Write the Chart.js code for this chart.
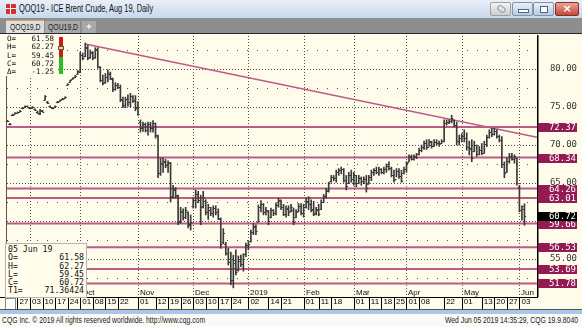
<!DOCTYPE html>
<html>
<head>
<meta charset="utf-8">
<title>QOQ19 - ICE Brent Crude, Aug 19, Daily</title>
<script src="https://cdn.jsdelivr.net/npm/chart.js@4.4.1/dist/chart.umd.min.js"></script>
<style>
  html, body { margin: 0; padding: 0; }
  body { width: 582px; height: 327px; position: relative; overflow: hidden; background: #fffcec;
         font-family: "Liberation Sans", Arial, sans-serif; }
  .abs { position: absolute; }
  .cond { display: inline-block; transform: scaleX(0.76); transform-origin: 0 50%; white-space: nowrap; }
  #chart { position: absolute; left: 0; top: 0; }
  #titlebar { left: 0; top: 0; width: 582px; height: 18px; background: linear-gradient(#e8eff8, #c8d8ec); }
  #icon { left: 6px; top: 4px; width: 10px; height: 10px; border-radius: 1px;
          background: linear-gradient(90deg, transparent 4px, #fff 4px 5px, transparent 5px),
                      linear-gradient(transparent 4px, #fff 4px 5px, transparent 5px), #d03030; }
  #title { left: 19px; top: 3px; font-size: 10px; color: #111; }
  .btn { top: 2px; height: 12px; border: 1px solid #8293ad; border-radius: 2px;
         background: linear-gradient(#e9f0f9, #b8cbe3); }
  #tabs { left: 0; top: 18px; width: 582px; height: 15px; background: #8e8e8e; border-bottom: 1px solid #2a2a2a; }
  .tab { top: 21px; height: 12px; font-size: 9px; line-height: 12px; color: #222; overflow: hidden; }
  .box { font-family: "DejaVu Sans Mono", monospace; color: #111; }
  .row { display: flex; justify-content: space-between; white-space: pre; }
  #foot { left: 0; top: 314px; width: 582px; height: 13px; background: #fbfaf6; font-size: 8.5px; line-height: 12px; color: #222; }
</style>
</head>
<body>
<canvas id="chart" width="582" height="327"></canvas>

<div id="titlebar" class="abs"></div>
<div id="icon" class="abs"></div>
<div id="title" class="abs"><span class="cond" style="transform:scaleX(0.74);">QOQ19 - ICE Brent Crude, Aug 19, Daily</span></div>
<div class="abs btn" style="left:490px;width:19px;background:linear-gradient(#f3f3f3,#cfcfcf);border-color:#a0a0a0;">
  <div class="abs" style="left:6px;top:3px;width:7px;height:4px;border:1px solid #999;border-radius:3px;transform:rotate(35deg);"></div>
</div>
<div class="abs btn" style="left:512px;width:19px;">
  <div class="abs" style="left:5px;top:6px;width:9px;height:2px;background:#fff;border:1px solid #56657c;"></div>
</div>
<div class="abs btn" style="left:533px;width:19px;">
  <div class="abs" style="left:6px;top:3px;width:6px;height:5px;background:#fff;border:1px solid #56657c;"></div>
</div>
<div class="abs btn" style="left:555px;width:22px;background:linear-gradient(#eaa496,#c4473b);border-color:#8a2c24;
     color:#fff;font:bold 11px 'DejaVu Sans',sans-serif;line-height:12px;text-align:center;">×</div>

<div id="tabs" class="abs"></div>
<div class="abs tab" style="left:6px;width:38px;background:#dedede;border-top:1px solid #e3a560;top:20px;">
  <span class="cond" style="margin-left:4px;">QOQ19,D</span></div>
<div class="abs tab" style="left:45px;width:35px;background:#a9a9a9;">
  <span class="cond" style="margin-left:3px;">QOU19,D</span></div>
<div class="abs tab" style="left:82px;width:14px;background:#a9a9a9;color:#fff;font-weight:bold;text-align:center;">+</div>

<div class="abs box" style="left:6px;top:35px;width:52px;height:41px;background:#fffcec;font-size:7.5px;line-height:8.3px;">
  <div class="row" style="width:47px;padding-left:1px;"><span>O=</span><span>61.58</span></div>
  <div class="row" style="width:47px;padding-left:1px;"><span>H=</span><span>62.27</span></div>
  <div class="row" style="width:47px;padding-left:1px;"><span>L=</span><span>59.45</span></div>
  <div class="row" style="width:47px;padding-left:1px;"><span>C=</span><span>60.72</span></div>
  <div class="row" style="width:47px;padding-left:1px;"><span>Δ=</span><span>-1.25</span></div>
</div>
<div class="abs" style="left:59px;top:37px;width:4px;height:20px;background:#d41a1a;"></div>
<div class="abs" style="left:59px;top:57px;width:4px;height:17px;background:#25c025;"></div>
<div class="abs" style="left:58px;top:46px;width:4px;height:2px;background:#e8e040;border:1px solid #555;"></div>

<div class="abs box" style="left:5px;top:243px;width:78px;height:52px;border:1px solid #b4b4b4;background:#fffcec;
     font-size:8.2px;line-height:8.3px;padding:1px 0 0 2px;">
  <div class="row" style="width:76px;"><span>05 Jun 19</span><span></span></div>
  <div class="row" style="width:76px;"><span>O=</span><span>61.58</span></div>
  <div class="row" style="width:76px;"><span>H=</span><span>62.27</span></div>
  <div class="row" style="width:76px;"><span>L=</span><span>59.45</span></div>
  <div class="row" style="width:76px;"><span>C=</span><span>60.72</span></div>
  <div class="row" style="width:76px;"><span>T1=</span><span>71.36424</span></div>
</div>

<div class="abs" style="left:5px;top:298px;width:9px;height:10px;background:#fff;border:1px solid #888;"></div>
<div class="abs" style="left:0;top:309px;width:582px;height:1px;background:#555;"></div>
<div class="abs" style="left:0;top:310px;width:582px;height:4px;background:#a9c8e6;"></div>
<div id="foot" class="abs">
  <span class="abs" style="left:2px;"><span class="cond" style="transform:scaleX(0.8);">CQG Inc. © 2019 All rights reserved worldwide. http://www.cqg.com</span></span>
  <span class="abs" style="left:445px;"><span class="cond" style="transform:scaleX(0.8);">Wed Jun 05 2019 14:35:29, CQG 19.9.8040</span></span>
</div>

<script>
// first trading day shown; one value per weekday from here on
const startDay = '2018-08-21';

const openP = [
  73.2, 72.8, 73.9, 74.1, 74.2, 74.4, 74.8, 75.0, 75.1, 74.9, 74.9, 74.7, 74.4, 74.1, 74.5,
  75.9, 75.7, 75.1, 74.8, 75.0, 75.6, 75.8, 76.0, 76.2, 77.9, 78.3, 78.7, 78.9, 79.3,
  79.6, 81.8, 81.7, 82.8, 81.6, 82.1, 81.6, 82.5, 80.2, 78.5,
  78.3, 79.0, 79.4, 78.7, 77.3, 77.9, 77.6, 75.9, 75.2, 76.0,
  75.6, 76.4, 75.9, 75.0, 73.0, 72.3, 72.7, 72.0, 72.7, 72.2,
  72.9, 71.2, 66.3, 67.5, 67.8, 67.4, 67.6, 63.3, 64.1, 63.3,
  60.0, 61.2, 60.5, 61.2, 59.5, 62.0, 62.8, 63.5, 62.7, 62.0,
  62.6, 61.2, 61.5, 61.0, 61.7, 61.2, 60.2, 57.2, 57.0, 55.8,
  54.6, 52.2, 54.5, 53.6, 54.8, 54.3, 55.6, 56.8, 57.4, 58.5,
  59.2, 59.9, 61.8, 62.2, 61.2, 61.3, 60.5, 61.4, 61.0, 62.1,
  62.6, 61.8, 60.9, 61.6, 61.3, 61.5, 60.5, 61.3, 62.0, 61.0,
  61.9, 62.6, 62.3, 61.6, 61.0, 61.5, 61.6, 62.5, 63.3, 64.0,
  65.2, 65.8, 65.6, 66.4, 66.7, 66.8, 65.4, 65.0, 66.1, 65.5,
  66.0, 65.0, 65.7, 65.2, 65.5, 64.9, 65.8, 66.4, 66.7, 66.4,
  66.8, 66.5, 66.9, 67.3, 67.0, 66.0, 65.5, 66.6, 65.9, 66.3,
  66.9, 67.8, 68.4, 68.2, 68.5, 68.8, 69.4, 69.7, 70.2, 69.8,
  70.4, 69.9, 70.4, 70.2, 70.2, 70.5, 72.9, 73.0, 73.1, 73.3,
  72.6, 70.5, 70.9, 71.2, 70.9, 69.8, 69.6, 69.2, 70.0, 68.8,
  69.4, 69.0, 70.1, 71.0, 71.7, 71.5, 71.9, 71.2, 70.6, 67.5,
  66.5, 67.9, 68.6, 68.2, 68.3, 64.5, 61.4, 61.58
];
const highP = [
  73.25, 72.85, 74.05, 74.25, 74.35, 74.55, 74.95, 75.15, 75.15, 74.95, 75.05, 74.75, 74.45, 74.7, 74.55,
  76.5, 75.75, 75.15, 74.95, 75.15, 75.75, 75.95, 76.15, 76.35, 78.05, 78.55, 78.85, 79.15, 79.8,
  82.2, 82.1, 83.4, 83.1, 82.5, 82.3, 82.8, 82.8, 80.3, 79.2,
  79.4, 79.9, 79.6, 78.8, 78.2, 78.1, 77.9, 76.3, 76.3, 76.6,
  76.8, 76.5, 76.5, 75.7, 73.3, 73.0, 72.9, 73.0, 73.0, 73.2,
  72.9, 71.3, 68.3, 68.3, 68.1, 67.9, 67.7, 64.7, 64.4, 63.4,
  61.8, 61.6, 61.8, 61.2, 60.8, 63.0, 64.1, 63.9, 63.4, 63.9,
  62.8, 62.2, 61.8, 62.0, 62.0, 61.6, 60.4, 59.0, 57.2, 56.4,
  55.9, 55.5, 56.2, 55.4, 55.5, 55.7, 57.1, 57.3, 58.8, 59.7,
  59.5, 62.1, 62.7, 62.3, 61.8, 61.4, 61.7, 61.5, 62.4, 63.0,
  62.8, 62.2, 62.0, 62.0, 62.2, 61.7, 61.5, 62.3, 62.3, 62.2,
  63.0, 63.2, 62.8, 62.6, 61.8, 62.2, 62.8, 63.5, 64.3, 65.1,
  66.0, 66.0, 66.7, 66.9, 67.1, 66.9, 66.0, 66.4, 66.7, 66.4,
  66.0, 66.0, 65.8, 65.8, 66.0, 66.0, 66.7, 66.9, 67.1, 67.1,
  66.9, 67.1, 67.5, 67.8, 67.1, 66.7, 66.9, 66.9, 66.7, 67.1,
  67.8, 68.7, 68.7, 68.7, 68.9, 69.6, 70.0, 70.5, 70.7, 70.7,
  70.5, 70.7, 70.7, 70.5, 70.7, 73.3, 73.3, 73.3, 73.9, 73.3,
  73.0, 71.3, 71.5, 72.0, 71.6, 70.5, 70.7, 70.5, 70.0, 69.8,
  70.2, 70.5, 71.3, 72.0, 72.2, 72.2, 72.0, 71.3, 71.1, 67.8,
  68.3, 68.9, 68.9, 68.7, 68.3, 64.7, 62.0, 62.27
];
const lowP = [
  73.05, 72.65, 73.85, 74.05, 74.15, 74.35, 74.75, 74.95, 74.95, 74.75, 74.85, 74.55, 74.15, 74.0, 74.35,
  75.9, 75.45, 74.95, 74.75, 74.95, 75.55, 75.75, 75.95, 76.15, 77.85, 78.25, 78.65, 78.85, 79.3,
  79.5, 81.2, 81.6, 81.2, 81.4, 81.2, 81.4, 80.1, 78.3, 77.9,
  78.1, 78.3, 78.6, 77.0, 77.2, 77.4, 75.7, 74.9, 74.9, 75.1,
  75.0, 75.6, 74.5, 73.9, 71.7, 71.8, 71.7, 71.3, 71.7, 71.7,
  70.9, 65.7, 66.0, 66.4, 67.0, 66.4, 62.5, 63.0, 63.0, 59.5,
  59.7, 60.1, 60.3, 59.1, 58.8, 61.7, 61.7, 62.4, 59.5, 61.7,
  60.8, 60.2, 60.7, 60.5, 60.8, 60.2, 56.4, 57.0, 55.5, 54.2,
  51.6, 51.2, 52.9, 53.4, 54.0, 53.4, 55.3, 56.2, 57.2, 58.2,
  58.2, 59.9, 61.2, 60.8, 60.8, 59.5, 60.4, 60.7, 60.8, 61.8,
  61.5, 60.7, 60.5, 60.7, 61.2, 59.5, 60.4, 61.2, 60.8, 60.5,
  61.7, 61.5, 61.2, 60.7, 60.8, 60.7, 61.5, 62.4, 63.0, 63.8,
  65.1, 65.3, 65.1, 66.0, 66.2, 65.1, 64.1, 64.9, 65.1, 64.7,
  64.5, 64.9, 64.7, 64.9, 63.8, 64.9, 65.3, 66.0, 66.2, 66.0,
  66.2, 66.2, 66.4, 66.7, 65.8, 65.1, 65.8, 65.6, 65.1, 66.2,
  66.4, 67.8, 68.0, 68.0, 68.2, 68.7, 69.1, 69.4, 69.4, 69.8,
  69.6, 69.8, 70.0, 69.8, 70.2, 70.4, 72.6, 72.8, 72.9, 72.4,
  70.0, 70.0, 70.4, 70.4, 69.3, 68.7, 67.8, 69.1, 68.5, 68.7,
  68.7, 68.9, 69.8, 70.9, 71.1, 71.3, 70.9, 70.4, 67.0, 65.7,
  66.4, 67.6, 68.0, 67.6, 64.7, 61.2, 60.1, 59.45
];
const closeP = [
  73.1, 72.7, 74.0, 74.2, 74.3, 74.5, 74.9, 75.1, 75.0, 74.8, 75.0, 74.6, 74.2, 74.6, 74.4,
  76.4, 75.5, 75.0, 74.9, 75.1, 75.7, 75.9, 76.1, 76.3, 78.0, 78.5, 78.8, 79.1, 79.7,
  81.9, 81.4, 82.9, 81.5, 82.2, 81.5, 82.6, 80.4, 78.6, 78.2,
  79.0, 79.5, 78.8, 77.3, 77.9, 77.6, 76.0, 75.2, 76.0, 75.6,
  76.5, 75.8, 74.8, 74.1, 72.3, 72.8, 72.0, 72.7, 72.2, 72.9,
  71.3, 66.3, 67.6, 67.9, 67.4, 67.7, 63.2, 64.2, 63.4, 59.9,
  61.3, 60.5, 61.4, 59.6, 59.9, 62.8, 63.6, 62.7, 61.8, 63.1,
  61.2, 61.9, 61.0, 61.7, 61.2, 60.4, 57.0, 58.4, 55.8, 54.6,
  52.2, 54.9, 53.3, 55.0, 54.3, 55.6, 56.8, 57.0, 58.5, 59.4,
  58.7, 61.8, 62.3, 61.2, 61.5, 60.0, 61.4, 61.0, 62.1, 62.8,
  61.8, 60.9, 61.7, 61.2, 61.9, 59.9, 61.2, 62.0, 61.0, 61.9,
  62.6, 62.2, 61.5, 60.9, 61.6, 60.9, 62.5, 63.3, 64.1, 65.0,
  65.8, 65.6, 66.5, 66.7, 66.9, 65.4, 64.6, 66.1, 65.5, 66.0,
  65.0, 65.7, 65.2, 65.5, 64.4, 65.8, 66.4, 66.7, 66.4, 66.9,
  66.5, 66.9, 67.3, 67.0, 66.0, 65.4, 66.6, 65.9, 65.3, 66.9,
  67.6, 68.5, 68.2, 68.5, 68.8, 69.4, 69.7, 70.2, 69.8, 70.5,
  69.9, 70.4, 70.2, 70.1, 70.5, 72.9, 73.0, 73.1, 73.5, 72.6,
  70.5, 70.9, 71.2, 70.9, 69.8, 69.5, 68.3, 70.0, 68.8, 69.4,
  69.0, 70.1, 71.0, 71.7, 71.5, 71.9, 71.2, 70.6, 67.5, 66.3,
  67.9, 68.6, 68.2, 68.5, 65.0, 61.5, 61.97, 60.72
];

const levels = [72.37, 68.34, 64.26, 63.01, 59.66, 56.53, 53.69, 51.78];
const lastPrice = 60.72;
const trendStart = ['2018-10-03', 83.30];
const trendEnd = ['2019-06-05', 71.36424];

const weekTicks = [
  '2018-08-27', '2018-09-03', '2018-09-10', '2018-09-17', '2018-09-24', '2018-10-01', '2018-10-08',
  '2018-10-15', '2018-10-22', '2018-11-01', '2018-11-12', '2018-11-19', '2018-11-26', '2018-12-03',
  '2018-12-10', '2018-12-17', '2018-12-24', '2019-01-02', '2019-01-14', '2019-01-21', '2019-02-01',
  '2019-02-11', '2019-02-18', '2019-03-01', '2019-03-11', '2019-03-18', '2019-03-25', '2019-04-01',
  '2019-04-08', '2019-04-22', '2019-05-01', '2019-05-13', '2019-05-20', '2019-05-27', '2019-06-03'
];
const monthStarts = ['2018-09-03', '2018-10-01', '2018-11-01', '2018-12-03', '2019-01-02',
                     '2019-02-01', '2019-03-01', '2019-04-01', '2019-05-01', '2019-06-03'];
const monthNames = ['Sep', 'Oct', 'Nov', 'Dec', '2019', 'Feb', 'Mar', 'Apr', 'May', 'Jun'];

// weekday calendar
const days = [];
const cur = new Date(startDay + 'T00:00:00Z');
while (days.length < 215) {
  const wd = cur.getUTCDay();
  if (wd !== 0 && wd !== 6) days.push(cur.toISOString().slice(0, 10));
  cur.setUTCDate(cur.getUTCDate() + 1);
}
const dayIdx = s => days.indexOf(s);
const xMin = -0.58, xMax = 211;

const barColor = '#3a3a3a';
const levelColor = '#bd5a86';
const boxColor = '#921c52';
const gridColor = '#505050';
const sans = '"Liberation Sans", Arial, sans-serif';

const bars = [];
openP.forEach((o, k) => { if (o != null) bars.push({ x: k, y: [lowP[k], highP[k]] }); });

const t0 = dayIdx(trendStart[0]), t1 = dayIdx(trendEnd[0]);
const slope = (trendEnd[1] - trendStart[1]) / (t1 - t0);
const trendPts = [{ x: t0, y: trendStart[1] }, { x: xMax, y: trendEnd[1] + slope * (xMax - t1) }];

// dotted line made of single pixels, so it stays crisp
function dots(ctx, x0, y0, x1, y1, step) {
  if (y0 === y1) {
    for (let px = Math.ceil(x0) + 1; px < x1; px += step) ctx.fillRect(px, y0, 1, 1);
  } else {
    for (let py = Math.ceil(y0) + 1; py < y1; py += step) ctx.fillRect(x0, py, 1, 1);
  }
}

const cqgLook = {
  id: 'cqgLook',
  beforeDraw(chart) {
    const c = chart.ctx;
    c.save();
    c.fillStyle = '#fffcec';
    c.fillRect(0, 0, chart.width, chart.height);
    c.restore();
  },
  beforeDatasetsDraw(chart) {
    const { ctx, scales: { x, y }, chartArea: a } = chart;
    ctx.save();
    ctx.fillStyle = gridColor;
    // price grid: dense dots every 5, sparse dots in between
    y.ticks.forEach(t => {
      if (t.value <= y.min || t.value >= y.max) return;
      const py = Math.round(y.getPixelForValue(t.value));
      dots(ctx, a.left, py, a.right, py, t.value % 5 === 0 ? 3 : 10);
    });
    // month separators
    monthStarts.forEach(d => {
      const px = Math.round(x.getPixelForValue(dayIdx(d)));
      dots(ctx, px, a.top, px, a.bottom, 3);
    });
    // week cells under the plot
    ctx.fillStyle = '#000';
    x.ticks.forEach(t => {
      const px = Math.round(x.getPixelForValue(t.value));
      ctx.fillRect(px, a.bottom, 1, 12);
    });
    ctx.restore();
  },
  afterDatasetsDraw(chart) {
    const { ctx, scales: { x, y }, chartArea: a } = chart;
    ctx.save();
    ctx.strokeStyle = barColor;
    ctx.lineWidth = 1;
    ctx.beginPath();
    openP.forEach((o, k) => {
      if (o == null) return;
      const px = x.getPixelForValue(k);
      const yo = Math.round(y.getPixelForValue(o)) + 0.5;
      const yc = Math.round(y.getPixelForValue(closeP[k])) + 0.5;
      ctx.moveTo(px - 1.7, yo); ctx.lineTo(px, yo);
      ctx.moveTo(px, yc); ctx.lineTo(px + 1.7, yc);
    });
    ctx.stroke();

    // month names along the bottom of the plot
    ctx.font = '8px ' + sans;
    ctx.fillStyle = '#111';
    ctx.textAlign = 'left';
    ctx.textBaseline = 'alphabetic';
    monthStarts.forEach((d, i) => {
      ctx.fillText(monthNames[i], Math.round(x.getPixelForValue(dayIdx(d))) + 2, a.bottom - 2);
    });

    // frame
    ctx.fillStyle = '#555';
    ctx.fillRect(a.left, a.top, 1, a.bottom - a.top);
    ctx.fillStyle = '#000';
    ctx.fillRect(a.right, a.top, 1.5, a.bottom - a.top);
    ctx.fillRect(0, a.bottom, a.right + 1, 1);
    ctx.restore();
  },
  afterDraw(chart) {
    const { ctx, scales: { y } } = chart;
    ctx.save();
    ctx.font = '9px "DejaVu Sans Mono", monospace';
    ctx.textAlign = 'right';
    ctx.textBaseline = 'middle';
    const box = (v, col) => {
      const py = Math.round(y.getPixelForValue(v));
      ctx.fillStyle = col;
      ctx.fillRect(538, py - 4, 39, 9);
      ctx.fillStyle = '#fff';
      ctx.fillText(v.toFixed(2), 576, py + 0.5);
    };
    levels.forEach(v => box(v, boxColor));
    box(lastPrice, '#000');
    ctx.restore();
  }
};

new Chart(document.getElementById('chart'), {
  type: 'bar',
  data: {
    datasets: [
      { type: 'bar', data: bars, backgroundColor: barColor, barThickness: 1, grouped: false, order: 0 },
      ...levels.map(v => ({
        type: 'line', data: [{ x: xMin, y: v }, { x: xMax, y: v }],
        borderColor: levelColor, borderWidth: 2, pointRadius: 0, order: 2
      })),
      { type: 'line', data: trendPts, borderColor: levelColor, borderWidth: 1.5, pointRadius: 0, order: 1 }
    ]
  },
  options: {
    responsive: false,
    devicePixelRatio: 1,
    animation: false,
    events: [],
    layout: { padding: { left: 6, right: 5, top: 35, bottom: 0 } },
    plugins: { legend: { display: false }, tooltip: { enabled: false } },
    scales: {
      x: {
        type: 'linear', min: xMin, max: xMax, offset: false,
        afterBuildTicks: s => { s.ticks = weekTicks.map(d => ({ value: dayIdx(d) })); },
        afterFit: s => { s.height = 30; },
        ticks: {
          autoSkip: false, maxRotation: 0, align: 'start', labelOffset: 2, padding: -12,
          color: '#000', font: { family: sans, size: 8 },
          callback: v => days[v].slice(8)
        },
        grid: { offset: false, color: 'rgba(0,0,0,0)', tickColor: 'rgba(0,0,0,0)', tickLength: 12, drawTicks: true },
        border: { display: false }
      },
      y: {
        position: 'right', min: 50, max: 84.47,
        afterFit: s => { s.width = 40; },
        ticks: {
          stepSize: 2.5, crossAlign: 'far', padding: 0, color: '#333',
          font: { family: '"DejaVu Sans Mono", monospace', size: 9 },
          callback: v => (v % 5 === 0 && v > 50 && v < 84) ? v.toFixed(2) : ''
        },
        grid: { color: 'rgba(0,0,0,0)', drawTicks: false },
        border: { display: false }
      }
    }
  },
  plugins: [cqgLook]
});
</script>
</body>
</html>
